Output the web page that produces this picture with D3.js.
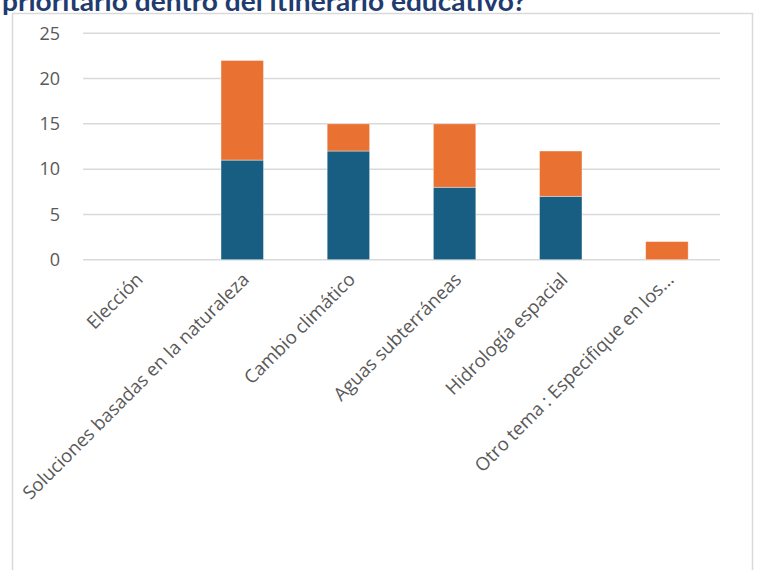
<!DOCTYPE html>
<html>
<head>
<meta charset="utf-8">
<script src="https://cdn.jsdelivr.net/npm/d3@7"></script>
<style>
  body { margin: 0; background: #fff; }
  svg { display: block; }
</style>
</head>
<body>
<div id="chart"></div>
<script>
var width = 757;
var height = 570;

// data
var categories = ['Elección', 'Soluciones basadas en la naturaleza', 'Cambio climático',
    'Aguas subterráneas', 'Hidrología espacial', 'Otro tema : Especifique en los...'];
var serieA = [0, 11, 12, 8, 7, 0];   // blue
var serieB = [0, 11, 3, 7, 5, 2];    // orange
var yTicks = [0, 5, 10, 15, 20, 25];
var titleText = 'prioritario dentro del itinerario educativo?';

var colors = ['#175e82', '#e97132'];

// plot area
var margin = { top: 33.3, left: 83, right: 37, bottom: 310.3 };
var chartWidth = width - margin.left - margin.right;
var chartHeight = height - margin.top - margin.bottom;

var svg = d3.select('#chart').append('svg')
    .attr('width', width)
    .attr('height', height);

// outer frame
svg.append('rect')
    .attr('x', 12.5)
    .attr('y', 13.5)
    .attr('width', 740)
    .attr('height', 600)
    .attr('fill', 'none')
    .attr('stroke', '#d9d9d9')
    .attr('stroke-width', 1.5);

// title (cut at top, as in the source)
svg.append('text')
    .attr('x', 2)
    .attr('y', 11)
    .attr('fill', '#1f3b70')
    .attr('textLength', 524)
    .attr('lengthAdjust', 'spacingAndGlyphs')
    .style('font-family', 'Lato, "Open Sans", sans-serif')
    .style('font-weight', 'bold')
    .style('font-size', '26px')
    .text(titleText);

var g = svg.append('g')
    .attr('transform', `translate(${margin.left}, ${margin.top})`);

var xScale = d3.scaleBand()
    .domain(categories)
    .range([0, chartWidth])
    .paddingInner(0.6)
    .paddingOuter(0.3);

var yScale = d3.scaleLinear()
    .domain([0, 25])
    .range([chartHeight, 0]);

// gridlines
g.append('g')
    .selectAll('line')
    .data(yTicks)
    .enter()
    .append('line')
    .attr('x1', 0)
    .attr('x2', chartWidth)
    .attr('y1', d => yScale(d))
    .attr('y2', d => yScale(d))
    .attr('stroke', '#d9d9d9')
    .attr('stroke-width', 1.5);

// y axis labels
var yAxis_g = g.append('g')
    .call(d3.axisLeft(yScale).tickValues(yTicks).tickSize(0).tickPadding(23));
yAxis_g.select('.domain').remove();
yAxis_g.selectAll('text')
    .attr('fill', '#595959')
    .style('font-family', '"Open Sans", sans-serif')
    .style('font-size', '18px');

// stacked bars
var rows = categories.map((c, i) => ({ cat: c, a: serieA[i], b: serieB[i] }));
var stack = d3.stack().keys(['a', 'b'])(rows);

g.selectAll('.serie')
    .data(stack)
    .enter()
    .append('g')
    .attr('fill', (d, i) => colors[i])
    .selectAll('rect')
    .data(d => d.filter(p => p[1] - p[0] > 0))
    .enter()
    .append('rect')
    .attr('x', d => xScale(d.data.cat))
    .attr('y', d => yScale(d[1]))
    .attr('width', xScale.bandwidth())
    .attr('height', d => yScale(d[0]) - yScale(d[1]))
    .attr('stroke', '#ffffff')
    .attr('stroke-opacity', 0.5)
    .attr('stroke-width', 0.75);

// x labels, rotated
g.append('g')
    .selectAll('text')
    .data(categories)
    .enter()
    .append('text')
    .attr('transform', d => `translate(${xScale(d) + xScale.bandwidth() / 2 + 8}, ${chartHeight + 21}) rotate(-45)`)
    .attr('text-anchor', 'end')
    .attr('fill', '#595959')
    .style('font-family', '"Open Sans", sans-serif')
    .style('font-size', '18.5px')
    .text(d => d);
</script>
</body>
</html>
